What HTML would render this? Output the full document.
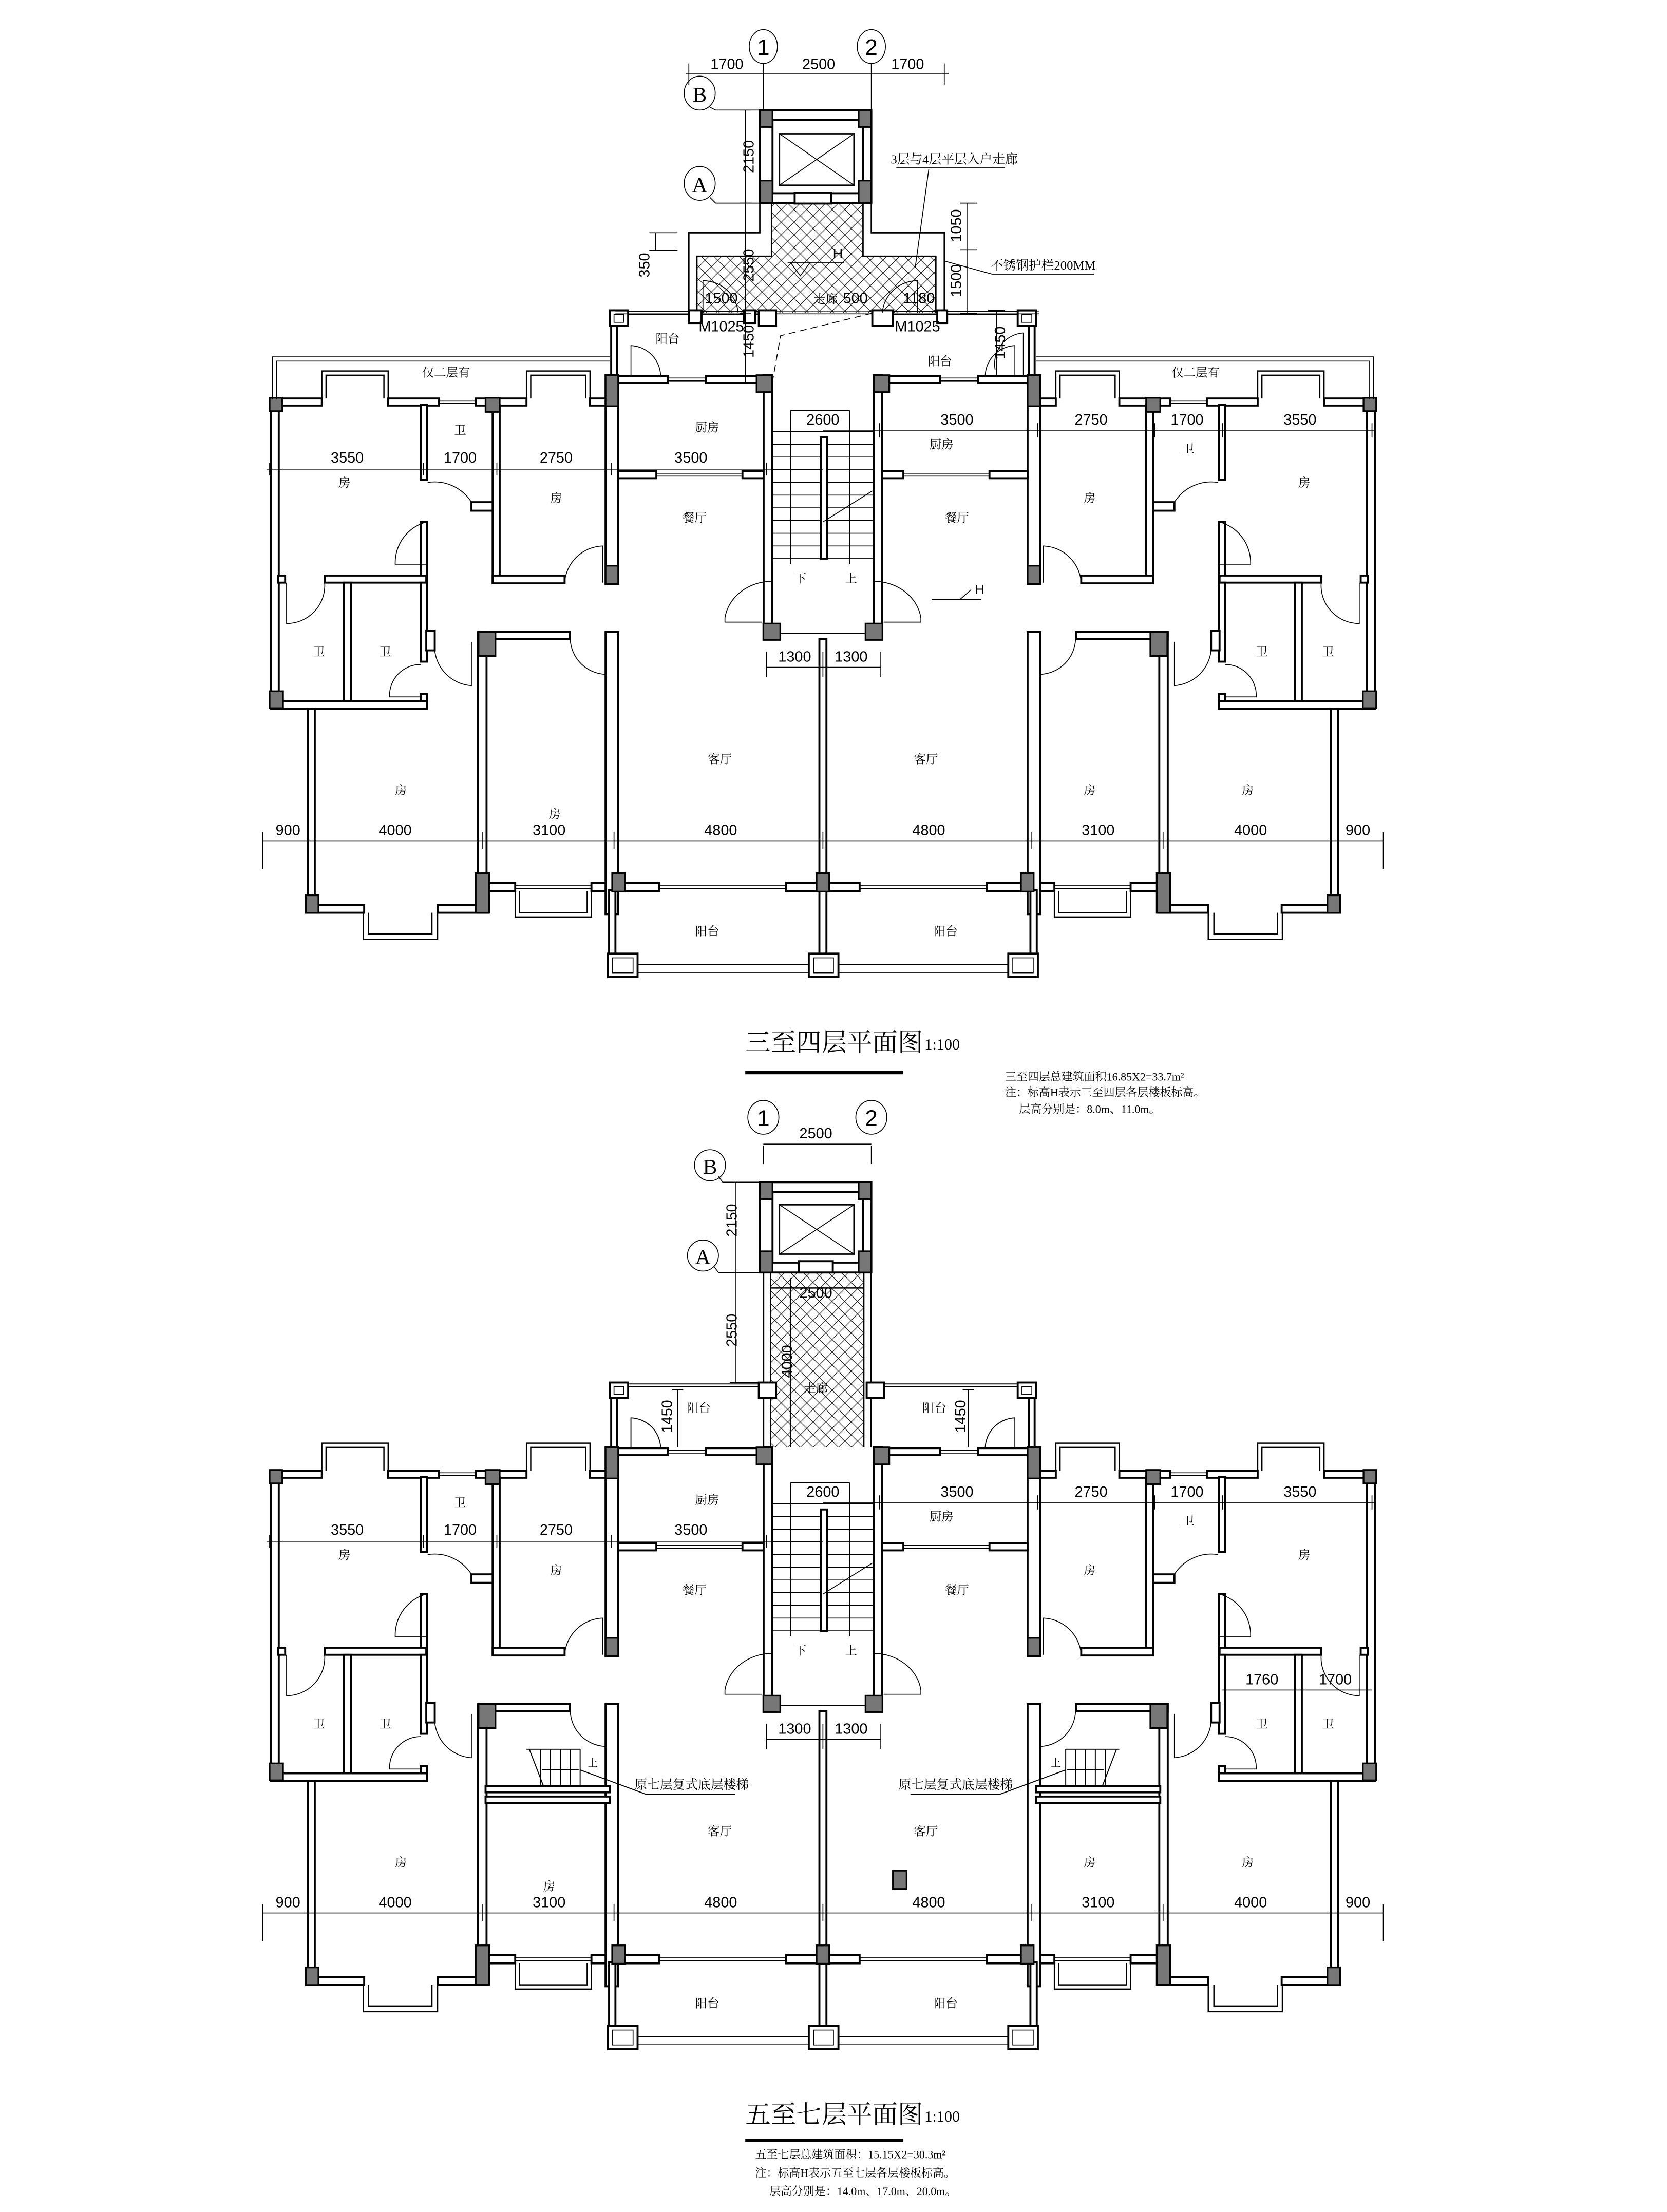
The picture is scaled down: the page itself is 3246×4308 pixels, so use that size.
<!DOCTYPE html>
<html><head><meta charset="utf-8"><style>html,body{margin:0;padding:0;background:#fff}svg{display:block}
.w{fill:#fff;stroke:#000;stroke-width:1.4}
.c{fill:#777;stroke:#000;stroke-width:1.2}
.l{fill:none;stroke:#000;stroke-width:0.6}
.t{font-family:"Liberation Sans","Noto Sans CJK SC",sans-serif;font-size:10.5px;text-anchor:middle}
.k{font-family:"Liberation Serif","Noto Serif CJK SC","Noto Sans CJK SC",serif;font-size:8.5px;text-anchor:middle}
.s{font-family:"Liberation Serif","Noto Serif CJK SC",serif;font-size:8px}
</style></head><body>
<svg xmlns="http://www.w3.org/2000/svg" xmlns:xlink="http://www.w3.org/1999/xlink" width="3246" height="4308" viewBox="0 0 1181 1568" preserveAspectRatio="none">
<defs>
<pattern id="hx" width="9" height="9" patternUnits="userSpaceOnUse"><path d="M0,0L9,9M9,0L0,9" stroke="#000" stroke-width="0.4" fill="none"/></pattern>
<g id="L">
<rect class="w" x="192" y="282.5" width="36" height="5"/>
<rect class="w" x="275" y="282.5" width="36" height="5"/>
<rect class="w" x="337" y="282.5" width="36" height="5"/>
<rect class="w" x="418" y="282.5" width="14" height="5"/>
<path class="l" d="M311,284L337,284M311,286L337,286"/>
<path class="l" d="M228,282.5V263H275V282.5M231,282.5V266H272V282.5" style="stroke-width:0.9"/>
<path class="l" d="M373,282.5V263H418V282.5M376,282.5V266H415V282.5" style="stroke-width:0.9"/>
<rect class="w" x="192" y="282.5" width="5.5" height="220"/>
<rect class="w" x="218" y="502" width="5" height="144"/>
<rect class="w" x="298" y="287" width="4.5" height="53"/>
<rect class="w" x="298" y="370" width="4.5" height="42"/>
<rect class="w" x="349" y="287" width="5" height="126"/>
<rect class="w" x="334" y="356" width="15" height="6"/>
<path class="l" d="M303,342A31,31 0 0 1 334,356"/>
<rect class="w" x="349" y="408" width="51" height="5.5"/>
<path class="l" d="M400,413A28,28 0 0 1 427,387L427,413"/>
<rect class="w" x="197" y="408" width="5" height="5"/>
<rect class="w" x="230" y="408" width="72" height="5"/>
<path class="l" d="M302,370A30,30 0 0 0 280,400L302,400"/>
<rect class="w" x="243.7" y="413" width="5" height="84"/>
<rect class="w" x="298" y="413" width="4.5" height="56"/>
<rect class="w" x="298" y="492" width="4.5" height="10"/>
<rect class="w" x="302" y="447" width="6" height="14"/>
<rect class="w" x="192" y="497" width="110.5" height="5.5"/>
<path class="l" d="M203,413L203,442A27,27 0 0 0 230,413"/>
<path class="l" d="M298,471A22,22 0 0 0 276,494L298,494"/>
<path class="l" d="M308,461A28,28 0 0 0 334,486L334,455"/>
<rect class="w" x="218" y="641.5" width="40" height="5.5"/>
<rect class="w" x="310" y="641.5" width="36" height="5.5"/>
<path class="l" d="M257.5,647V666H310V647M261,647V662H306V647" style="stroke-width:0.9"/>
<rect class="w" x="338.7" y="448" width="6" height="199"/>
<rect class="w" x="338.7" y="448" width="65" height="5"/>
<path class="l" d="M404,453A26,26 0 0 0 429,478L429,453"/>
<rect class="w" x="344" y="625.7" width="21" height="6"/>
<rect class="w" x="419" y="625.7" width="19" height="6"/>
<path class="l" d="M365,631.7V650H419V631.7M368,631.7V647H416V631.7" style="stroke-width:0.9"/>
<path class="l" d="M365,627.5H419M365,629.8H419"/>
<rect class="w" x="429" y="448" width="9" height="200"/>
<rect class="w" x="431.5" y="631" width="4.5" height="46"/>
<rect class="w" x="438" y="625.7" width="29" height="6"/>
<path class="l" d="M467,627.5H557M467,629.8H557"/>
<rect class="w" x="557" y="625.7" width="26" height="6"/>
<rect class="w" x="430.7" y="676" width="21" height="16.6"/>
<rect class="l" x="434" y="679" width="14.5" height="10.6"/>
<path class="l" d="M451.8,683.6H573.8M451.8,689.4H573.8"/>
<rect class="w" x="429" y="266" width="9" height="148"/>
<rect class="w" x="438" y="266.5" width="35" height="5"/>
<path class="l" d="M473,268H500M473,270H500"/>
<rect class="w" x="500" y="266.5" width="41" height="5"/>
<rect class="w" x="438" y="334" width="27" height="5"/>
<path class="l" d="M465,335.5H526M465,337.5H526"/>
<rect class="w" x="526" y="334" width="15" height="5"/>
<rect class="w" x="541" y="266" width="6" height="180"/>
<path class="l" d="M547,306H583M547,315H583M547,324H583M547,333H583M547,342H583M547,351H583M547,360H583M547,369H583M547,378H583M547,387H583M547,396H583"/>
<path class="l" d="M547,412A34,30 0 0 0 513.6,438L513.6,441H540"/>
<path class="l" d="M553,449H583"/>
<rect class="w" x="432" y="220" width="13" height="11"/>
<rect class="l" x="435" y="223" width="7" height="5.5"/>
<rect class="w" x="433" y="231" width="4" height="35"/>
<path class="l" d="M445,221H540M445,223H540"/>
<path class="l" d="M447,266L447,245A22,22 0 0 1 468,266"/>
<rect class="c" x="191" y="282" width="9" height="9.5"/>
<rect class="c" x="344" y="282" width="10" height="10"/>
<rect class="c" x="429" y="266" width="9" height="22"/>
<rect class="c" x="191" y="490" width="9.5" height="12"/>
<rect class="c" x="429" y="401" width="9" height="13"/>
<rect class="c" x="339" y="448" width="12" height="17"/>
<rect class="c" x="216.6" y="634.6" width="9" height="12.5"/>
<rect class="c" x="337" y="619" width="9.5" height="28"/>
<rect class="c" x="433.7" y="619" width="9" height="13"/>
<rect class="c" x="536" y="266" width="11" height="12"/>
<rect class="c" x="540.8" y="442" width="12" height="11.6"/>
</g>
</defs>
<rect x="0" y="0" width="1181" height="1568" fill="#fff"/>
<g id="body">
<use href="#L" xlink:href="#L"/>
<use href="#L" xlink:href="#L" transform="translate(1166,0) scale(-1,1)"/>
<rect class="w" x="580.5" y="453" width="5" height="225"/>
<rect class="c" x="578.5" y="619" width="9" height="13"/>
<rect class="w" x="573" y="676" width="21" height="16.6"/>
<rect class="l" x="576.5" y="679" width="14" height="10.6"/>
<rect class="w" x="581.5" y="310" width="4.5" height="86"/>
<path class="l" d="M560,291V400M602,291V400M560,291H602"/>
<path class="l" d="M583,370L618,348"/>
<path class="l" d="M602,396V346"/>
<path class="l" d="M189,332.6H583M191,328V337M300,328V337M352,328V337M433,328V337M543,328V337"/>
<path class="l" d="M583,305H975M623,300V310M735,300V310M818,300V310M866,300V310M972,300V310"/>
<path class="l" d="M186,596H980M186,590V616M218,590V602M342,590V602M435,590V602M583,590V602M731,590V602M824,590V602M948,590V602M980,590V616"/>
<path class="l" d="M543,473H624M543,462V480M583,462V480M624,462V480"/>
<text class="t" x="246" y="328">3550</text><text class="t" x="326" y="328">1700</text><text class="t" x="394" y="328">2750</text><text class="t" x="489.5" y="328">3500</text>
<text class="t" x="583" y="301">2600</text><text class="t" x="678" y="301">3500</text><text class="t" x="773" y="301">2750</text><text class="t" x="841" y="301">1700</text><text class="t" x="921" y="301">3550</text>
<text class="t" x="204" y="592">900</text><text class="t" x="280" y="592">4000</text><text class="t" x="389" y="592">3100</text><text class="t" x="510.6" y="592">4800</text>
<text class="t" x="658" y="592">4800</text><text class="t" x="778" y="592">3100</text><text class="t" x="886" y="592">4000</text><text class="t" x="962" y="592">900</text>
<text class="t" x="563" y="469">1300</text><text class="t" x="603" y="469">1300</text>
<text class="k" x="326" y="308">卫</text><text class="k" x="244" y="345">房</text><text class="k" x="394" y="356">房</text>
<text class="k" x="501" y="306">厨房</text><text class="k" x="492" y="370">餐厅</text><text class="k" x="226" y="465">卫</text><text class="k" x="273" y="465">卫</text>
<text class="k" x="510" y="541">客厅</text><text class="k" x="284" y="563">房</text>
<text class="k" x="667" y="318">厨房</text><text class="k" x="772" y="356">房</text><text class="k" x="842" y="321">卫</text><text class="k" x="924" y="345">房</text><text class="k" x="678" y="370">餐厅</text>
<text class="k" x="894" y="465">卫</text><text class="k" x="941" y="465">卫</text><text class="k" x="656" y="541">客厅</text><text class="k" x="772" y="563">房</text><text class="k" x="884" y="563">房</text>
<text class="k" x="501" y="663">阳台</text><text class="k" x="670" y="663">阳台</text>
<text class="k" x="567" y="413">下</text><text class="k" x="603" y="413">上</text>
</g>

<text class="k" x="393" y="580">房</text>
<path class="l" d="M193,283V253H432M196,283V256H432"/>
<path class="l" d="M973,283V253H734M970,283V256H734"/>
<text class="k" x="316" y="267">仅二层有</text><text class="k" x="847" y="267">仅二层有</text>
<path class="l" d="M660,425H695M688,418L680,425"/><text class="t" x="694" y="421" style="font-size:9px">H</text>
<path class="l" d="M486,52H672M488,45V60M540.8,45V100M617.3,45V100M669,45V60"/>
<ellipse class="l" cx="540.8" cy="33" rx="10" ry="12"/><text class="t" x="540.8" y="39" style="font-size:16px">1</text>
<ellipse class="l" cx="617.3" cy="33" rx="10" ry="12"/><text class="t" x="617.3" y="39" style="font-size:16px">2</text>
<text class="t" x="515" y="49">1700</text><text class="t" x="580" y="49">2500</text><text class="t" x="643" y="49">1700</text>
<ellipse class="l" cx="495.7" cy="66" rx="11" ry="12"/><text class="t" x="495.7" y="72" style="font-size:15px;font-family:'Liberation Serif',serif">B</text>
<ellipse class="l" cx="495.7" cy="130" rx="11" ry="12"/><text class="t" x="495.7" y="136" style="font-size:15px;font-family:'Liberation Serif',serif">A</text>
<path class="l" d="M503,76L507,78H540M503,140L507,144H540"/>
<path d="M546.6,144H611.4V181.7H663V222H493.7V181.7H546.6Z" fill="url(#hx)" stroke="none"/>
<path class="l" d="M538.3,144V165H488V222M546.6,144V181.7H493.7V222M617.3,144V165H669V222M611.4,144V181.7H663V222" style="stroke-width:1"/>
<path class="l" d="M436,220.5H736M436,222.5H736"/>
<rect x="538.3" y="78" width="79" height="66" fill="#fff" stroke="#000" stroke-width="1.4"/>
<rect x="547.3" y="85" width="64" height="52" fill="#fff" stroke="#000" stroke-width="1.4"/>
<rect class="c" x="538.3" y="78" width="9" height="12"/><rect class="c" x="608.3" y="78" width="9" height="12"/>
<rect class="c" x="538.3" y="128" width="9" height="16"/><rect class="c" x="608.3" y="128" width="9" height="16"/>
<rect class="l" x="552.2" y="94.8" width="52.8" height="36.5" style="stroke-width:1"/><path class="l" d="M552.2,94.8L605,131.3M605,94.8L552.2,131.3"/>
<rect class="w" x="563" y="136.5" width="26" height="7.8"/>
<rect class="w" x="537.6" y="220" width="12.2" height="11"/><rect class="w" x="618" y="220" width="14.6" height="11"/>
<rect class="w" x="488" y="220" width="9" height="9"/><rect class="w" x="527" y="220" width="8" height="9"/><rect class="w" x="664" y="220" width="7" height="9"/>
<path class="l" d="M528,78V272M524,78H532M524,144H532M524,222H532"/>
<text class="t" transform="translate(534,111) rotate(-90)">2150</text>
<text class="t" transform="translate(534,188) rotate(-90)">2550</text>
<text class="t" transform="translate(534,242) rotate(-90)">1450</text>
<path class="l" d="M685.5,144V222M680,144H692M680,177H692M680,222H692"/>
<text class="t" transform="translate(681,160) rotate(-90)">1050</text>
<text class="t" transform="translate(681,199) rotate(-90)">1500</text>
<path class="l" d="M464.5,165V177.4M460,165H480M460,177.4H480"/>
<text class="t" transform="translate(460,188) rotate(-90)">350</text>
<path class="l" d="M706,220V266M700,220H712"/><text class="t" transform="translate(712,243) rotate(-90)">1450</text>
<text class="k" x="676" y="116" style="font-size:9px">3层与4层平层入户走廊</text>
<path class="l" d="M635,119H712M658,120L648.4,189.6"/>
<text class="k" x="739" y="191" style="font-size:9px">不锈钢护栏200MM</text>
<path class="l" d="M703,194.4H775M703,194.4L669,185"/>
<text class="t" x="593.6" y="183" style="font-size:10px">H</text>
<path class="l" d="M558,186H598M560,186L567,195.6L574,186"/>
<text class="t" x="511" y="215">1500</text><text class="k" x="585" y="215">走廊</text><text class="t" x="606" y="215">500</text><text class="t" x="651" y="215">1180</text>
<text class="t" x="511" y="235">M1025</text><text class="t" x="650" y="235">M1025</text>
<path class="l" d="M498,222V199A25,25 0 0 1 523,222M650,222V199A25,25 0 0 0 625,222"/>
<path class="l" d="M618,222L553,238L547,272" stroke-dasharray="5,3"/>
<text class="k" x="473" y="243">阳台</text><text class="k" x="666" y="259">阳台</text>
<path class="l" d="M725,236A22,22 0 0 0 705,262M725,236V266"/>
<text x="528" y="745" style="font-family:'Liberation Serif','Noto Serif CJK SC',serif;font-size:18px">三至四层平面图</text>
<text x="655" y="744" class="s" style="font-size:11px">1:100</text>
<rect x="528" y="759" width="112" height="2.5" fill="#000"/>
<text x="712" y="766" class="s">三至四层总建筑面积16.85X2=33.7m²</text>
<text x="712" y="777" class="s">注：标高H表示三至四层各层楼板标高。</text>
<text x="712" y="789" class="s">&#160;&#160;&#160;&#160;&#160;层高分别是：8.0m、11.0m。</text>

<use href="#body" xlink:href="#body" transform="translate(0,760)"/>
<text class="k" x="389" y="1340">房</text>
<rect class="w" x="344" y="1266" width="88" height="4.5"/>
<rect class="w" x="344" y="1273.5" width="88" height="4.5"/>
<rect class="w" x="734" y="1266" width="88" height="4.5"/>
<rect class="w" x="734" y="1273.5" width="88" height="4.5"/>
<path class="l" d="M373,1240H411M375,1240L385,1266M383,1240V1266M390,1240V1266M397,1240V1266M404,1240V1266M411,1240V1266M384,1254.6H410M411,1254.6L458,1272H521" style="stroke-width:0.7"/>
<text class="k" x="420" y="1252" style="font-size:7px">上</text>
<text class="k" x="490" y="1268" style="font-size:9px">原七层复式底层楼梯</text>
<path class="l" d="M793,1240H755M791,1240L781,1266M783,1240V1266M776,1240V1266M769,1240V1266M762,1240V1266M755,1240V1266M782,1254.6H756M755,1254.6L708,1272H645" style="stroke-width:0.7"/>
<text class="k" x="748" y="1252" style="font-size:7px">上</text>
<text class="k" x="677" y="1268" style="font-size:9px">原七层复式底层楼梯</text>
<rect class="c" x="632.6" y="1326" width="9.7" height="13"/>
<text class="t" x="894" y="1194">1760</text><text class="t" x="946" y="1194">1700</text>
<path class="l" d="M866,1198H972"/>
<path class="l" d="M540.8,812V825M617.3,812V825M540.8,811H617.3"/>
<ellipse class="l" cx="540.8" cy="792" rx="11" ry="12"/><text class="t" x="540.8" y="798" style="font-size:16px">1</text>
<ellipse class="l" cx="617.3" cy="792" rx="11" ry="12"/><text class="t" x="617.3" y="798" style="font-size:16px">2</text>
<text class="t" x="578" y="807">2500</text>
<ellipse class="l" cx="503" cy="826" rx="11" ry="11"/><text class="t" x="503" y="832" style="font-size:15px;font-family:'Liberation Serif',serif">B</text>
<ellipse class="l" cx="498" cy="890" rx="11" ry="11"/><text class="t" x="498" y="896" style="font-size:15px;font-family:'Liberation Serif',serif">A</text>
<path class="l" d="M509,834L512,838H540M506,898L509,902H540M521,838V980M517,838H526M517,902H526M517,980H540"/>
<text class="t" transform="translate(522,865) rotate(-90)">2150</text>
<text class="t" transform="translate(522,943) rotate(-90)">2550</text>
<rect x="546" y="902" width="66" height="124" fill="url(#hx)"/>
<path class="l" d="M541,902V1026M546,902V1026M612,902V1026M617,902V1026M546,913H612M560,906V1026" style="stroke-width:0.9"/>
<text class="t" x="578" y="920">2500</text>
<text class="t" transform="translate(561,965) rotate(-90)">4000</text>
<text class="k" x="578" y="987">走廊</text>
<rect x="538.3" y="838" width="79" height="64" fill="#fff" stroke="#000" stroke-width="1.4"/>
<rect x="547.3" y="845" width="64" height="50" fill="#fff" stroke="#000" stroke-width="1.4"/>
<rect class="c" x="538.3" y="838" width="9" height="12"/><rect class="c" x="608.3" y="838" width="9" height="12"/>
<rect class="c" x="538.3" y="887" width="9" height="15"/><rect class="c" x="608.3" y="887" width="9" height="15"/>
<rect class="l" x="552.2" y="854" width="52.8" height="35" style="stroke-width:1"/><path class="l" d="M552.2,854L605,889M605,854L552.2,889"/>
<rect class="w" x="566" y="894" width="24" height="8"/>
<rect class="w" x="537.6" y="980" width="12.2" height="11"/><rect class="w" x="614" y="980" width="12.2" height="11"/>
<path class="l" d="M446,981H537.6M446,983H537.6M626,981H720M626,983H720"/>
<text class="k" x="495" y="1001">阳台</text><text class="k" x="662" y="1001">阳台</text>
<path class="l" d="M480,985V1026M476,985H484M686,985V1026M682,985H690"/>
<text class="t" transform="translate(476,1004) rotate(-90)">1450</text>
<text class="t" transform="translate(684,1004) rotate(-90)">1450</text>
<path class="l" d="M447,1026V1005A22,22 0 0 1 468,1026M719,1026V1005A22,22 0 0 0 698,1026"/>
<text x="528" y="1505" style="font-family:'Liberation Serif','Noto Serif CJK SC',serif;font-size:18px">五至七层平面图</text>
<text x="655" y="1504" class="s" style="font-size:11px">1:100</text>
<rect x="528" y="1516" width="112" height="2.5" fill="#000"/>
<text x="535" y="1530" class="s">五至七层总建筑面积：15.15X2=30.3m²</text>
<text x="535" y="1543" class="s">注：标高H表示五至七层各层楼板标高。</text>
<text x="535" y="1556" class="s">&#160;&#160;&#160;&#160;&#160;层高分别是：14.0m、17.0m、20.0m。</text>
</svg>
</body></html>
